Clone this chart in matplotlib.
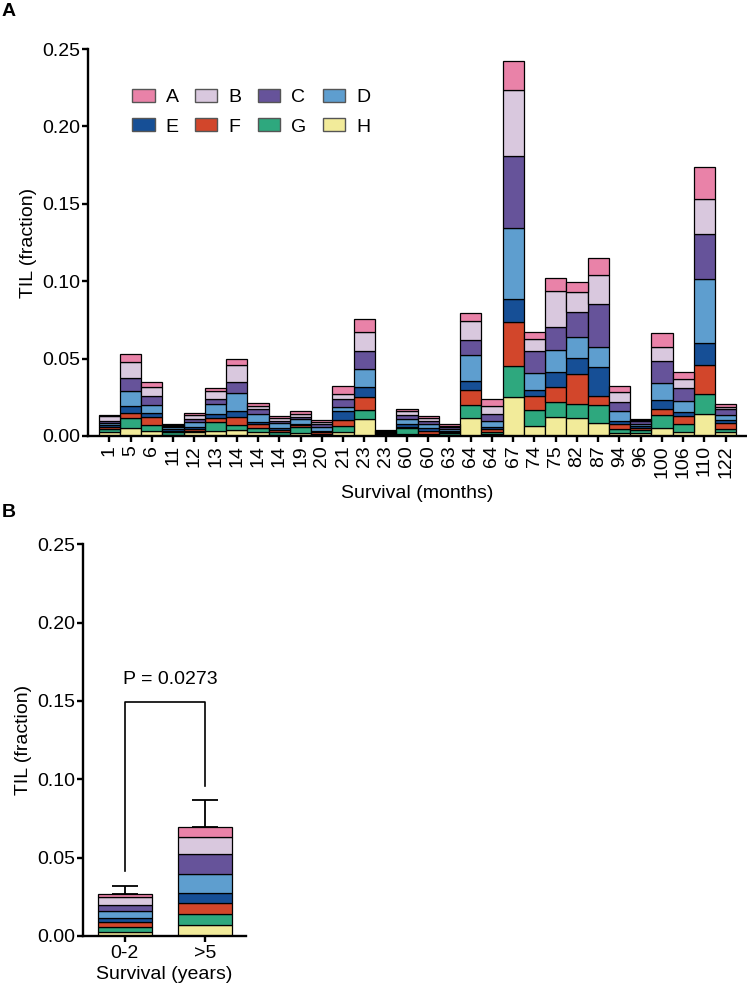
import matplotlib
matplotlib.use("Agg")
import matplotlib.pyplot as plt
from matplotlib.patches import Patch
import numpy as np

plt.rcParams['font.family'] = ['Liberation Sans', 'DejaVu Sans']

# ---------------- data ----------------
months = ["1", "5", "6", "11", "12", "13", "14", "14", "14", "19", "20", "21", "23", "23",
          "60", "60", "63", "64", "64", "67", "74", "75", "82", "87", "94", "96", "100",
          "106", "110", "122"]

subsets = ["A", "B", "C", "D", "E", "F", "G", "H"]

# stacked bottom -> top : H, G, F, E, D, C, B, A
H = [0.0024, 0.0054, 0.0034, 0.0008, 0.0024, 0.0032, 0.0039, 0.0024, 0.0008, 0.0017,
     0.0005, 0.0028, 0.0108, 0.0003, 0.0015, 0.0005, 0.0005, 0.0114, 0.0013, 0.0254,
     0.0062, 0.0123, 0.0114, 0.0082, 0.0017, 0.0020, 0.0054, 0.0024, 0.0144, 0.0024]
G = [0.0024, 0.0060, 0.0037, 0.0015, 0.0011, 0.0060, 0.0030, 0.0026, 0.0015, 0.0039,
     0.0010, 0.0039, 0.0058, 0.0008, 0.0035, 0.0010, 0.0015, 0.0084, 0.0015, 0.0196,
     0.0103, 0.0095, 0.0095, 0.0120, 0.0030, 0.0020, 0.0082, 0.0052, 0.0129, 0.0024]
F = [0.0013, 0.0037, 0.0049, 0.0008, 0.0011, 0.0022, 0.0056, 0.0030, 0.0015, 0.0013,
     0.0010, 0.0037, 0.0088, 0.0003, 0.0010, 0.0015, 0.0005, 0.0099, 0.0017, 0.0288,
     0.0092, 0.0097, 0.0189, 0.0058, 0.0030, 0.0010, 0.0039, 0.0052, 0.0183, 0.0039]
E = [0.0009, 0.0043, 0.0026, 0.0015, 0.0013, 0.0028, 0.0037, 0.0013, 0.0015, 0.0009,
     0.0010, 0.0060, 0.0060, 0.0008, 0.0020, 0.0020, 0.0010, 0.0058, 0.0015, 0.0144,
     0.0039, 0.0097, 0.0105, 0.0185, 0.0022, 0.0015, 0.0058, 0.0026, 0.0142, 0.0017]
D = [0.0013, 0.0095, 0.0052, 0.0010, 0.0030, 0.0062, 0.0118, 0.0048, 0.0030, 0.0030,
     0.0025, 0.0022, 0.0116, 0.0004, 0.0030, 0.0030, 0.0010, 0.0166, 0.0039, 0.0462,
     0.0108, 0.0146, 0.0138, 0.0131, 0.0065, 0.0015, 0.0108, 0.0073, 0.0417, 0.0030]
C = [0.0013, 0.0084, 0.0062, 0.0010, 0.0022, 0.0037, 0.0067, 0.0035, 0.0017, 0.0017,
     0.0018, 0.0056, 0.0116, 0.0005, 0.0025, 0.0020, 0.0010, 0.0099, 0.0043, 0.0467,
     0.0148, 0.0144, 0.0157, 0.0277, 0.0056, 0.0015, 0.0146, 0.0084, 0.0288, 0.0041]
B = [0.0030, 0.0103, 0.0058, 0.0008, 0.0022, 0.0052, 0.0114, 0.0020, 0.0017, 0.0015,
     0.0015, 0.0030, 0.0123, 0.0004, 0.0025, 0.0015, 0.0010, 0.0125, 0.0049, 0.0424,
     0.0077, 0.0234, 0.0135, 0.0187, 0.0065, 0.0010, 0.0086, 0.0060, 0.0230, 0.0015]
A = [0.0011, 0.0054, 0.0028, 0.0006, 0.0015, 0.0015, 0.0037, 0.0014, 0.0010, 0.0024,
     0.0012, 0.0052, 0.0084, 0.0003, 0.0015, 0.0015, 0.0010, 0.0047, 0.0045, 0.0185,
     0.0041, 0.0086, 0.0062, 0.0108, 0.0037, 0.0008, 0.0090, 0.0041, 0.0206, 0.0015]

groups = ["0-2", ">5"]
grp_H = [0.0026, 0.0068]
grp_G = [0.0034, 0.0070]
grp_F = [0.0030, 0.0074]
grp_E = [0.0023, 0.0060]
grp_D = [0.0047, 0.0126]
grp_C = [0.0038, 0.0126]
grp_B = [0.0049, 0.0111]
grp_A = [0.0019, 0.0062]
grp_err = [0.0053, 0.0172]
p_text = "P = 0.0273"

colors = {
    "A": "#E982A8",
    "B": "#D9C8DE",
    "C": "#66539A",
    "D": "#5E9ECF",
    "E": "#164F96",
    "F": "#D2462B",
    "G": "#2EA87E",
    "H": "#F2EB9A",
}

# ---------------- figure ----------------
fig = plt.figure(figsize=(7.47, 9.91), dpi=100)

FS = 14
LW_SPINE = 1.7

def style_axes(ax):
    for s in ["top", "right"]:
        ax.spines[s].set_visible(False)
    for s in ["left", "bottom"]:
        ax.spines[s].set_linewidth(LW_SPINE)
    ax.tick_params(axis="both", direction="out", length=4.5, width=LW_SPINE,
                   labelsize=FS, colors="black")
    ax.tick_params(axis="y", pad=1)
    ax.tick_params(axis="x", pad=2)

# Panel A
axA = fig.add_axes([88 / 747, 1 - 436 / 991, (747 - 88) / 747, 387 / 991])
style_axes(axA)
x = np.arange(len(months))
stack_order = [("H", H), ("G", G), ("F", F), ("E", E), ("D", D), ("C", C), ("B", B), ("A", A)]
bottom = np.zeros(len(months))
handles = {}
for name, vals in stack_order:
    vals = np.array(vals)
    axA.bar(x, vals, bottom=bottom, width=1.0, color=colors[name],
            edgecolor="black", linewidth=0.9, zorder=2)
    bottom = bottom + vals
    handles[name] = Patch(facecolor=colors[name], edgecolor="#555555", linewidth=1.0)

axA.set_xlim(-1.0, 30.0)
axA.set_ylim(0, 0.25)
axA.set_yticks([0, 0.05, 0.10, 0.15, 0.20, 0.25])
axA.set_yticklabels(["0.00", "0.05", "0.10", "0.15", "0.20", "0.25"])
axA.set_xticks(x)
axA.set_xticklabels(months, rotation=90, fontsize=FS)
axA.set_ylabel("TIL (fraction)", fontsize=FS, labelpad=4)
axA.set_xlabel("Survival (months)", fontsize=FS, labelpad=5)

order = ["A", "E", "B", "F", "C", "G", "D", "H"]
leg = axA.legend([handles[k] for k in order], order, ncol=4, frameon=False,
                 loc="upper left", bbox_to_anchor=(0.067, 0.897),
                 fontsize=FS, handlelength=1.16, handleheight=0.68,
                 handletextpad=0.56, columnspacing=0.84, labelspacing=0.6,
                 borderpad=0.0, borderaxespad=0.0)

# Panel B
axB = fig.add_axes([82.7 / 747, 1 - 936 / 991, 163 / 747, 391.7 / 991])
style_axes(axB)
xb = np.arange(len(groups))
stack_b = [("H", grp_H), ("G", grp_G), ("F", grp_F), ("E", grp_E), ("D", grp_D),
           ("C", grp_C), ("B", grp_B), ("A", grp_A)]
bottom_b = np.zeros(len(groups))
for name, vals in stack_b:
    vals = np.array(vals)
    axB.bar(xb, vals, bottom=bottom_b, width=0.67, color=colors[name],
            edgecolor="black", linewidth=0.9, zorder=2)
    bottom_b = bottom_b + vals
axB.errorbar(xb, bottom_b, yerr=[np.zeros(len(groups)), grp_err], fmt="none",
             ecolor="black", elinewidth=1.3, capsize=9.5, capthick=1.3, zorder=1)

# significance bracket
y_br = 0.1495
axB.plot([0, 0, 1, 1], [bottom_b[0] + grp_err[0] + 0.0095, y_br, y_br,
                        bottom_b[1] + grp_err[1] + 0.0089],
         color="black", linewidth=1.2)
axB.text(0.57, y_br + 0.0085, p_text, ha="center", va="bottom", fontsize=FS)

axB.set_xlim(-0.52, 1.5)
axB.set_ylim(0, 0.25)
axB.set_yticks([0, 0.05, 0.10, 0.15, 0.20, 0.25])
axB.set_yticklabels(["0.00", "0.05", "0.10", "0.15", "0.20", "0.25"])
axB.set_xticks(xb)
axB.set_xticklabels(groups, fontsize=FS)
axB.set_ylabel("TIL (fraction)", fontsize=FS, labelpad=4)
axB.set_xlabel("Survival (years)", fontsize=FS, labelpad=3)

fig.text(2 / 747, 1 - 3 / 991, "A", fontsize=14, fontweight="bold", ha="left", va="top")
fig.text(2 / 747, 1 - 504 / 991, "B", fontsize=14, fontweight="bold", ha="left", va="top")

fig.savefig("out.png", dpi=100)
